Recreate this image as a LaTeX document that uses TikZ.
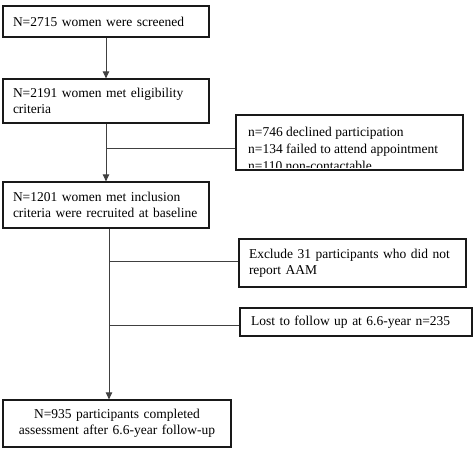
\documentclass[tikz,border=0pt]{standalone}
\usepackage{fontspec}
\setmainfont{Liberation Serif}
\usetikzlibrary{arrows.meta,calc}
\begin{document}
\begin{tikzpicture}[x=1pt,y=-1pt,
  box/.style={draw=black!90,line width=1.3pt,rectangle,inner xsep=10pt,inner ysep=0pt,
    align=left,font=\fontsize{13.5}{16.5}\selectfont},
  conn/.style={draw=black!75,line width=0.9pt},
  arr/.style={conn,-{Triangle[width=6.5pt,length=7pt]}},
  txt/.style={font=\fontsize{13.5}{17}\selectfont,align=left,inner sep=0pt}]
\useasboundingbox[fill=white] (0,0) rectangle (474,450);
\node[box,minimum width=206pt,minimum height=31pt,text width=186pt] (b1) at (106,21.5) {N=2715 women were screened};
\node[box,minimum width=206pt,minimum height=44pt,text width=186pt] (b2) at (106,101) {N=2191 women met eligibility\\criteria};
\node[box,minimum width=206pt,minimum height=46pt,text width=186pt] (b4) at (106,205) {N=1201 women met inclusion\\criteria were recruited at baseline};
\node[box,minimum width=227pt,minimum height=48pt,text width=207pt] (b5) at (352.5,263) {Exclude 31 participants who did not\\report AAM};
\node[box,minimum width=232pt,minimum height=28pt,text width=210pt,inner xsep=11pt] (b6) at (356,322) {Lost to follow up at 6.6-year n=235};
\node[box,minimum width=228pt,minimum height=47pt,text width=208pt,align=center] (b7) at (117,423.5) {N=935 participants completed\\assessment after 6.6-year follow-up};
% box with clipped text
\begin{scope}
\clip (236,115) rectangle (463,167);
\node[txt,anchor=north west] (b3t) at (248,126.5) {n=746 declined participation\\n=134 failed to attend appointment\\n=110 non-contactable};
\end{scope}
\node[draw=black!90,line width=1.3pt,minimum width=227pt,minimum height=55pt,inner sep=0pt] (b3) at (349.5,142.5) {};
% connectors
\draw[arr] (b1.south) -- (b2.north);
\draw[arr] (b2.south) -- (b4.north);
\coordinate (j1) at (106,148);
\draw[conn] (j1) -- (j1 -| b3.west);
\coordinate (top2) at (109,228);
\coordinate (bot2) at (109,400);
\draw[arr] (b4.south -| top2) -- (b7.north -| bot2);
\coordinate (j2) at (109,261);
\draw[conn] (j2) -- (j2 -| b5.west);
\coordinate (j3) at (109,325);
\draw[conn] (j3) -- (j3 -| b6.west);
\end{tikzpicture}
\end{document}
